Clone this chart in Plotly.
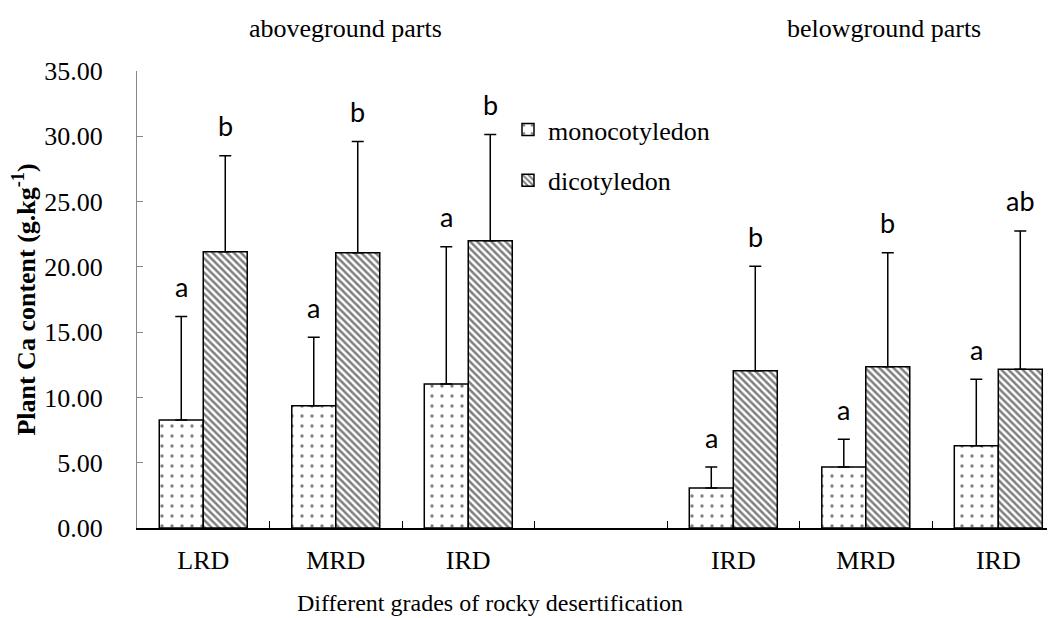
import plotly.graph_objects as go

# ---- data ----
x_keys = ["A_LRD", "A_MRD", "A_IRD", "gap", "B_IRD", "B_MRD", "B_IRD2"]
tick_labels = ["LRD", "MRD", "IRD", "", "IRD", "MRD", "IRD"]

mono_vals = [8.27, 9.37, 11.03, None, 3.06, 4.67, 6.30]
mono_err = [7.93, 5.23, 10.51, None, 1.61, 2.13, 5.10]
dico_vals = [21.15, 21.08, 22.00, None, 12.05, 12.35, 12.15]
dico_err = [7.35, 8.52, 8.14, None, 7.99, 8.73, 10.60]

mono_letters = ["a", "a", "a", None, "a", "a", "a"]
dico_letters = ["b", "b", "b", None, "b", "b", "ab"]

section_titles = ["aboveground parts", "belowground parts"]

SERIF = "Liberation Serif"
SANS = "Lato"

# page body has an 8px margin; target plot area: x 137..1055, y 71..528 in the screenshot
OFF = 8
L, T = 137 - OFF, 71 - OFF
PW, PH = 918, 457
W, H = 1055, 618
R = W - L - PW
B = H - T - PH


def px_x(x):
    return (x - 137) / PW


def px_y(y):
    return (528 - y) / PH


fig = go.Figure()
fig.add_trace(go.Bar(
    x=x_keys, y=mono_vals, name="monocotyledon", legendgroup="m",
    marker=dict(color="white", line=dict(color="black", width=1.5),
                pattern=dict(shape=".", size=10, solidity=0.09, fgcolor="black", bgcolor="white")),
    error_y=dict(type="data", symmetric=False, array=mono_err,
                 arrayminus=[0 if v is not None else None for v in mono_err],
                 color="black", thickness=1.5, width=6),
))
fig.add_trace(go.Bar(
    x=x_keys, y=dico_vals, name="dicotyledon", legendgroup="d",
    marker=dict(color="white", line=dict(color="black", width=1.5),
                pattern=dict(shape="\\", size=5, solidity=0.5, fgcolor="black", bgcolor="white")),
    error_y=dict(type="data", symmetric=False, array=dico_err,
                 arrayminus=[0 if v is not None else None for v in dico_err],
                 color="black", thickness=1.5, width=6),
))

annotations = []
for key, v, e, t in zip(x_keys, mono_vals, mono_err, mono_letters):
    if t:
        annotations.append(dict(x=key, y=v + e, text=t, showarrow=False, xref="x", yref="y",
                                xshift=-22, yshift=30, yanchor="middle", xanchor="center",
                                font=dict(family=SANS, size=27, color="black")))
for key, v, e, t in zip(x_keys, dico_vals, dico_err, dico_letters):
    if t:
        annotations.append(dict(x=key, y=v + e, text=t, showarrow=False, xref="x", yref="y",
                                xshift=22, yshift=30, yanchor="middle", xanchor="center",
                                font=dict(family=SANS, size=27, color="black")))

annotations.append(dict(x=px_x(345), y=px_y(28), xref="paper", yref="paper",
                        xanchor="center", yanchor="middle",
                        text=section_titles[0], showarrow=False,
                        font=dict(family=SERIF, size=26, color="black")))
annotations.append(dict(x=px_x(884), y=px_y(28), xref="paper", yref="paper",
                        xanchor="center", yanchor="middle",
                        text=section_titles[1], showarrow=False,
                        font=dict(family=SERIF, size=26, color="black")))
annotations.append(dict(x=px_x(490), y=px_y(603), xref="paper", yref="paper",
                        xanchor="center", yanchor="middle",
                        text="Different grades of rocky desertification", showarrow=False,
                        font=dict(family=SERIF, size=24, color="black")))

fig.update_layout(
    width=W, height=H,
    margin=dict(l=L, r=R, t=T, b=B, pad=0),
    plot_bgcolor="white", paper_bgcolor="white",
    barmode="group", bargap=0.336, bargroupgap=0,
    showlegend=True,
    legend=dict(x=px_x(508), y=px_y(106), xanchor="left", yanchor="top",
                bgcolor="rgba(0,0,0,0)", tracegroupgap=14, traceorder="grouped",
                font=dict(family=SERIF, size=26, color="black")),
    annotations=annotations,
    xaxis=dict(type="category", categoryorder="array", categoryarray=x_keys,
               tickvals=x_keys, ticktext=tick_labels,
               range=[-0.5, 6.428], tickson="boundaries",
               ticks="inside", ticklen=7, tickcolor="black", tickwidth=1.3,
               showline=True, linecolor="black", linewidth=1.5,
               showgrid=False, zeroline=False, ticklabelstandoff=8,
               tickfont=dict(family=SERIF, size=26, color="black")),
    yaxis=dict(range=[0, 35], dtick=5, tickformat=".2f",
               ticks="inside", ticklen=6, tickcolor="#888888", tickwidth=1,
               showline=True, linecolor="#888888", linewidth=1,
               showgrid=False, zeroline=False, ticklabelstandoff=28,
               tickfont=dict(family=SERIF, size=26, color="black")),
)
fig.update_yaxes(title=dict(text="<b>Plant Ca content (g.kg<sup>-1</sup>)</b>", standoff=8,
                            font=dict(family=SERIF, size=26, color="black")))

fig.write_html("out.html")
